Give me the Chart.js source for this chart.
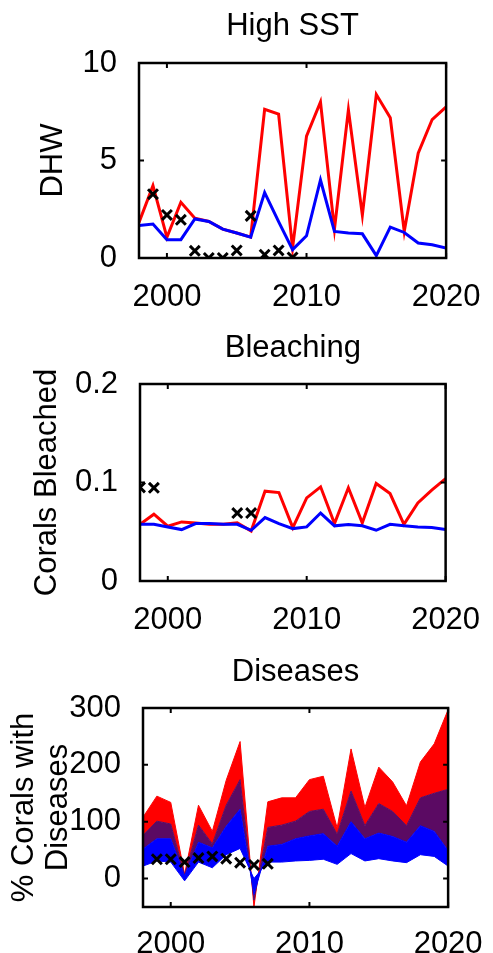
<!DOCTYPE html>
<html>
<head>
<meta charset="utf-8">
<script src="https://cdn.jsdelivr.net/npm/chart.js@4"></script>
<style>
  html, body { margin: 0; padding: 0; background: #fff; }
  body { width: 493px; height: 953px; position: relative; overflow: hidden; }
  canvas { position: absolute; left: 0; }
</style>
</head>
<body>
<canvas id="sst" width="493" height="320" style="top:0px"></canvas>
<canvas id="bleach" width="493" height="320" style="top:320px"></canvas>
<canvas id="disease" width="493" height="313" style="top:640px"></canvas>
<script>
const years = [1998, 1999, 2000, 2001, 2002, 2003, 2004, 2005, 2006, 2007, 2008, 2009,
  2010, 2011, 2012, 2013, 2014, 2015, 2016, 2017, 2018, 2019, 2020];
const xTicks = [2000, 2010, 2020];

// High SST (DHW)
const sstRed = [1.82, 3.71, 1.06, 2.86, 2.04, 1.87, 1.48, 1.28, 1.07, 7.63, 7.38, 0.51,
  6.25, 8.0, 1.48, 7.6, 2.2, 8.38, 7.19, 1.36, 5.37, 7.1, 7.75];
const sstBlue = [1.67, 1.74, 0.94, 0.94, 2.0, 1.87, 1.48, 1.28, 1.07, 3.36, 1.87, 0.43,
  1.14, 4.0, 1.36, 1.28, 1.24, 0.12, 1.58, 1.31, 0.77, 0.68, 0.51];
const sstObsYears = [1999, 2000, 2001, 2002, 2003, 2004, 2005, 2006, 2007, 2008, 2009];
const sstObs = [3.27, 2.21, 1.96, 0.37, 0, 0, 0.39, 2.16, 0.17, 0.39, 0.03];
const sstTicks = [0, 5, 10];

// Bleaching
const bleachRed = [0.0576, 0.0678, 0.0556, 0.060, 0.059, 0.0576, 0.0576, 0.059, 0.0508, 0.0912, 0.0898, 0.0542,
  0.0844, 0.0956, 0.0583, 0.0946, 0.059, 0.099, 0.0888, 0.0576, 0.0793, 0.0922, 0.104];
const bleachBlue = [0.0576, 0.0576, 0.0549, 0.0522, 0.0583, 0.0583, 0.0576, 0.0576, 0.0515, 0.0644, 0.0583, 0.0532,
  0.0549, 0.069, 0.056, 0.0573, 0.056, 0.0515, 0.0576, 0.056, 0.0549, 0.0542, 0.0522];
const bleachObsYears = [1998, 1999, 2005, 2006];
const bleachObs = [0.095, 0.0946, 0.069, 0.069];
const bleachTicks = [0, 0.1, 0.2];

// Diseases: band edges, bottom to top
const diseaseLow = [22, 31, 29, -4, 29, 19, 42, 53, 0, 29, 29, 31,
  32, 34, 25, 44, 31, 35, 31, 28, 42, 39, 22];
const diseaseQ1 = [52, 70, 70, 5, 64, 54, 92, 122, -28, 57, 60, 70,
  75, 79, 57, 100, 70, 80, 74, 64, 93, 83, 49];
const diseaseQ3 = [76, 101, 96, 6, 94, 61, 129, 174, -38, 90, 94, 101,
  118, 122, 78, 154, 93, 132, 118, 93, 142, 150, 157];
const diseaseHigh = [108, 145, 134, 7.5, 129, 83, 173, 241, -50, 135, 142, 142,
  174, 180, 89, 228, 125, 196, 170, 128, 205, 237, 297];
const diseaseObsYears = [1999, 2000, 2001, 2002, 2003, 2004, 2005, 2006, 2007];
const diseaseObs = [34, 34, 29, 36, 39, 35, 28, 24, 26];
const diseaseTicks = [0, 100, 200, 300];

const FONT = 'Liberation Sans, Arial, Helvetica, sans-serif';
const FSIZE = 31;
const pairs = (xs, ys) => xs.map((x, i) => ({ x: x, y: ys[i] }));

// matlab style box with inward ticks on all four sides
const boxPlugin = {
  id: 'box',
  afterDatasetsDraw(chart) {
    const { ctx, chartArea: a, scales: { x, y } } = chart;
    ctx.save();
    ctx.strokeStyle = '#000';
    ctx.lineWidth = 2;
    ctx.beginPath();
    x.ticks.forEach((t) => {
      const px = x.getPixelForValue(t.value);
      ctx.moveTo(px, a.bottom); ctx.lineTo(px, a.bottom - 5);
      ctx.moveTo(px, a.top); ctx.lineTo(px, a.top + 5);
    });
    y.ticks.forEach((t) => {
      const py = y.getPixelForValue(t.value);
      ctx.moveTo(a.left, py); ctx.lineTo(a.left + 5, py);
      ctx.moveTo(a.right, py); ctx.lineTo(a.right - 5, py);
    });
    ctx.stroke();
    ctx.lineWidth = 2.5;
    ctx.strokeRect(a.left, a.top, a.right - a.left, a.bottom - a.top);
    ctx.restore();
  }
};

function obsSet(xs, ys) {
  return {
    data: pairs(xs, ys),
    showLine: false,
    pointStyle: 'crossRot',
    pointRadius: 7,
    pointBorderWidth: 3,
    pointBorderColor: '#000',
    borderColor: '#000',
  };
}

function lineSet(ys, color) {
  return {
    data: pairs(years, ys),
    borderColor: color,
    borderWidth: 3,
    pointRadius: 0,
    tension: 0,
    fill: false,
  };
}

function makeOptions(o) {
  return {
    responsive: false,
    animation: false,
    layout: { padding: { left: 0, top: 0, bottom: 0, right: o.padRight } },
    plugins: {
      legend: { display: false },
      tooltip: { enabled: false },
      title: {
        display: true,
        fullSize: false,
        text: o.title,
        color: '#000',
        font: { family: FONT, size: FSIZE, weight: 'normal' },
        padding: { top: o.titleTop, bottom: o.titleBottom },
      },
    },
    scales: {
      x: {
        type: 'linear',
        min: 1998,
        max: 2020,
        grid: { display: false },
        border: { display: false },
        afterBuildTicks: (s) => { s.ticks = xTicks.map((v) => ({ value: v })); },
        afterFit: (s) => { s.height = o.xHeight; },
        ticks: {
          color: '#000',
          padding: o.xPad,
          maxRotation: 0,
          font: { family: FONT, size: FSIZE },
          callback: (v) => String(v),
        },
      },
      y: {
        min: o.yMin,
        max: o.yMax,
        grid: { display: false },
        border: { display: false },
        afterBuildTicks: (s) => { s.ticks = o.yTicks.map((v) => ({ value: v })); },
        afterFit: (s) => { s.width = o.yWidth; },
        ticks: {
          color: '#000',
          padding: 14,
          font: { family: FONT, size: FSIZE },
          callback: (v) => String(v),
        },
        title: {
          display: true,
          text: o.yTitle,
          color: '#000',
          font: { family: FONT, size: FSIZE, lineHeight: o.yTitleLH || 1.2 },
          padding: { top: o.yTitlePad, bottom: 0 },
        },
      },
    },
  };
}

new Chart(document.getElementById('sst'), {
  type: 'line',
  plugins: [boxPlugin],
  data: {
    datasets: [
      obsSet(sstObsYears, sstObs),
      lineSet(sstBlue, '#0000ff'),
      lineSet(sstRed, '#ff0000'),
    ],
  },
  options: makeOptions({
    title: 'High SST', titleTop: 7.9, titleBottom: 17.9,
    yTitle: 'DHW', yTitlePad: 34.9, yWidth: 139,
    yMin: 0, yMax: 10, yTicks: sstTicks,
    xHeight: 62, xPad: 12.4, padRight: 36,
  }),
});

new Chart(document.getElementById('bleach'), {
  type: 'line',
  plugins: [boxPlugin],
  data: {
    datasets: [
      obsSet(bleachObsYears, bleachObs),
      lineSet(bleachBlue, '#0000ff'),
      lineSet(bleachRed, '#ff0000'),
    ],
  },
  options: makeOptions({
    title: 'Bleaching', titleTop: 9.4, titleBottom: 17.4,
    yTitle: 'Corals Bleached', yTitlePad: 28.9, yWidth: 140,
    yMin: 0, yMax: 0.2, yTicks: bleachTicks,
    xHeight: 59, xPad: 12.9, padRight: 36,
  }),
});

function bandSet(ys, color) {
  return {
    data: pairs(years, ys),
    borderColor: color,
    borderWidth: 1,
    backgroundColor: color,
    pointRadius: 0,
    tension: 0,
    fill: '-1',
  };
}

const lowSet = bandSet(diseaseLow, '#0000ff');
lowSet.fill = false;

new Chart(document.getElementById('disease'), {
  type: 'line',
  plugins: [boxPlugin],
  data: {
    datasets: [
      obsSet(diseaseObsYears, diseaseObs),
      lowSet,
      bandSet(diseaseQ1, '#0000ff'),
      bandSet(diseaseQ3, '#5b0a63'),
      bandSet(diseaseHigh, '#ff0000'),
    ],
  },
  options: makeOptions({
    title: 'Diseases', titleTop: 13.4, titleBottom: 17.4,
    yTitle: ['% Corals with', 'Diseases'], yTitlePad: 6.6, yTitleLH: 1.12, yWidth: 143,
    yMin: -50, yMax: 300, yTicks: diseaseTicks,
    xHeight: 46, xPad: 10.4, padRight: 37,
  }),
});
</script>
</body>
</html>
